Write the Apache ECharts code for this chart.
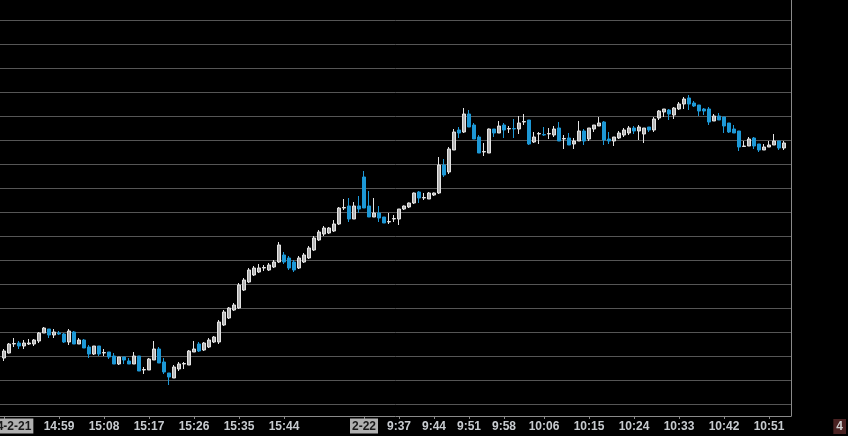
<!DOCTYPE html>
<html><head><meta charset="utf-8">
<script src="https://cdn.jsdelivr.net/npm/echarts@6/dist/echarts.min.js"></script>
<style>html,body{margin:0;padding:0;background:#000}#c{width:848px;height:436px}</style>
</head><body><div id="c"></div>
<script>
// 1-minute bars: session of 2-21 from 14:48 (72 bars), session of 2-22 from 9:30 (85 bars)
const sessionStart = ['14:48', '9:30'];
const sessionBars = [72, 85];

const opens = [3046,3051,3060,3061,3058,3060,3060,3063,3071,3075,3069,3071,3070,3062,3072,3060,3064,3057,3050,3058,
3051,3052,3048,3040,3047,3043,3040,3048,3034,3034,3044,3055,3042,3031,3026,3035,3040,3039,3052,3060,
3054,3057,3062,3062,3079,3086,3094,3096,3114,3122,3129,3132,3136,3134,3137,3142,3149,3146,3142,3136,
3142,3146,3154,3164,3170,3171,3173,3180,3196,3198,3185,3198,3227,3198,3187,3191,3187,3182,3185,3185,
3195,3197,3201,3212,3206,3205,3209,3211,3239,3232,3254,3274,3272,3290,3279,3267,3252,3251,3275,3271,
3279,3275,3275.5,3275,3282,3284,3262,3270,3269.5,3270,3269,3276,3265,3266,3260,3263,3273,3265,3275,3278,
3282,3265,3263,3266,3269,3271,3276,3273,3270,3277,3274,3286,3292,3294,3289,3295,3300,3306,3301,3299,
3295,3295,3283,3288,3287,3281,3275,3273,3257.5,3258,3266,3260,3254,3257,3259,3263,3256];
const closes = [3053,3060,3060.5,3058,3061,3061,3064,3071,3076,3069,3072,3070,3062,3073,3060,3064,3056,3050,3058,3050,
3051.5,3047,3040,3047,3044,3040,3048,3033,3034.5,3045,3055,3041,3032,3027,3037,3040,3040.5,3053,3055,3053,
3061,3064,3067,3082,3092,3096,3099,3119,3124,3134,3136,3136,3136.5,3139,3142,3159,3142,3136,3134,3146,
3149,3156,3166,3172,3176,3176,3180,3196,3196.5,3185,3198,3195,3196,3187,3191,3186,3181,3182.5,3185.5,3195,
3198,3201,3211,3206,3206.5,3211,3211,3239,3229,3255,3272,3271,3290,3277,3265,3251,3252.5,3275,3271,3278,
3274,3275.5,3275,3281,3282.5,3260,3267,3270.5,3269,3270.5,3275,3263,3265.5,3259,3263,3273,3263,3276,3279,3281,
3264,3263,3267,3271,3274,3276,3273,3277,3276,3274,3285,3293,3295,3290,3296,3300,3305,3300,3298,3293,
3293,3282,3288,3284,3278,3272,3271,3257,3258,3265,3258,3254,3257,3259,3263,3256,3261];
const lows = [3043,3050.5,3057,3055,3055,3059,3058,3061,3071,3066,3066,3069,3061,3059,3060,3060,3056,3046,3049,3048,
3048,3045,3040,3039,3040,3040,3040,3033,3030,3034,3044,3041,3030,3019,3026,3033,3035,3039,3052,3052,
3053,3056,3061,3060,3078,3085,3093,3095,3113,3121,3128,3131,3133,3133,3136,3141,3140,3134,3132,3135,
3141,3145,3153,3163,3168,3170,3172,3179,3194,3182,3185,3191,3196,3187,3187,3182,3181,3180,3182,3179,
3194,3196,3200,3201,3204,3205,3208,3210,3227,3230,3254,3266,3271,3277,3265,3251,3248,3251,3267,3271,
3266,3271,3266,3270,3279,3259,3261,3260,3268,3265,3267,3263,3255,3259,3255,3263,3259,3263,3272,3278,
3259,3260,3258,3265,3267,3269,3270,3264,3261,3272,3272,3284,3287,3284,3285,3294,3295,3294,3297,3288,
3289,3279,3283,3284,3271,3271,3271,3253,3257,3258,3255,3252,3254,3257,3259,3254,3254];
const highs = [3055,3061,3066,3063,3064,3065,3065,3072,3077,3075,3075,3073,3071,3075,3073,3066,3065,3059,3058,3058,
3055,3052,3051,3047,3047,3046,3052,3048,3037,3046,3063,3057,3046,3031,3039,3042,3042,3054,3063,3062,
3062,3066,3068,3084,3094,3097,3101,3121,3126,3136,3138,3140,3139,3141,3144,3162,3152,3148,3144,3148,
3151,3158,3168,3174,3178,3177,3184,3197,3205,3206,3202,3208,3233,3213,3206,3198,3187,3191,3189,3195,
3198.5,3201.5,3211.5,3213,3211,3212,3211.5,3247,3245,3257,3275,3277,3296,3294,3281,3269,3261,3275.5,3275,3283,
3281,3278,3285,3288,3290,3284,3272,3272,3277,3276,3278,3282,3269,3271,3266,3283,3275,3276,3279,3287,
3283,3272,3267,3273,3276,3278,3278,3279,3276,3277,3287,3294,3295,3295,3297,3302,3307,3309,3303,3299,
3296,3297,3290,3291,3287,3281,3279,3273,3263,3267,3267,3260,3260,3263,3270,3263,3263];

// axis labels shown under the bars
const tickIndex = [0, 11, 20, 29, 38, 47, 56, 72, 79, 86, 93, 100, 108, 117, 126, 135, 144, 153];
const tickText = ['2024-2-21','14:59','15:08','15:17','15:26','15:35','15:44','2-22','9:37','9:44','9:51','9:58','10:06','10:15','10:24','10:33','10:42','10:51'];

function buildCategories() {
  const out = [];
  sessionStart.forEach((s, k) => {
    let [h, m] = s.split(':').map(Number);
    for (let j = 0; j < sessionBars[k]; j++) {
      out.push(h + ':' + String(m).padStart(2, '0'));
      m++; if (m === 60) { m = 0; h++; }
    }
  });
  return out;
}
const categories = buildCategories();
const ohlc = opens.map((o, i) => [o, closes[i], lows[i], highs[i]]);

const chart = echarts.init(document.getElementById('c'), null, {renderer: 'canvas'});
const showAt = (idx) => tickIndex.indexOf(idx) >= 0;
chart.setOption({
  backgroundColor: '#000',
  animation: false,
  grid: [
    {left: 1.5, right: 61.5, top: 20, bottom: 32, containLabel: false, outerBoundsMode: 'none'},
    {left: 0, right: 57, top: 20, bottom: 32, containLabel: false, outerBoundsMode: 'none'},
    {left: 0, right: 57, top: 0, bottom: 20, containLabel: false, outerBoundsMode: 'none'}
  ],
  xAxis: [
    {type: 'category', gridIndex: 0, data: categories, boundaryGap: true, offset: 12,
     axisLine: {show: false},
     axisTick: {show: true, interval: showAt, alignWithLabel: true, length: 3, lineStyle: {color: '#888'}},
     axisLabel: {interval: showAt, margin: 3, hideOverlap: false,
       formatter: (v, idx) => {
         const k = tickIndex.indexOf(idx);
         const t = k >= 0 ? tickText[k] : v;
         return t.indexOf('-') >= 0 ? '{d|' + t + '}' : '{t|' + t + '}';
       },
       rich: {
         d: {backgroundColor: '#b0b0b0', color: '#1a1a1a', padding: [2, 2, 1, 2], fontSize: 12, fontWeight: 'bold', fontFamily: 'Liberation Sans', lineHeight: 14},
         t: {color: '#c8ccd0', padding: [2, 2, 1, 2], fontSize: 12, fontWeight: 'bold', fontFamily: 'Liberation Sans', lineHeight: 14}
       }},
     splitLine: {show: false}},
    {type: 'value', gridIndex: 1, show: false},
    {type: 'value', gridIndex: 2, min: 0, max: 1, axisLine: {show: true, onZero: false, lineStyle: {color: '#8a8a8a'}},
     axisTick: {show: false}, axisLabel: {show: false}, splitLine: {show: false}}
  ],
  yAxis: [
    {type: 'value', gridIndex: 0, min: 3000, max: 3384, interval: 24, show: false},
    {type: 'value', gridIndex: 1, min: 3000, max: 3384, interval: 24,
     axisLine: {show: false}, axisTick: {show: false}, axisLabel: {show: false},
     splitLine: {show: true, lineStyle: {color: '#555', width: 1}}},
    {type: 'value', gridIndex: 2, position: 'right', min: 0, max: 1,
     axisLine: {show: true, onZero: false, lineStyle: {color: '#8a8a8a'}}, axisTick: {show: false}, axisLabel: {show: false}, splitLine: {show: false}}
  ],
  series: [{
    type: 'candlestick', xAxisIndex: 0, yAxisIndex: 0, data: ohlc, barWidth: 3,
    itemStyle: {color: '#b4b4b4', color0: '#1d98d6', borderColor: '#e4e4e4', borderColor0: '#1d98d6', borderWidth: 1}
  }],
  graphic: [{
    type: 'text', right: 2, bottom: 2,
    style: {text: '4', fill: '#d0d0d0', backgroundColor: '#4a2222', padding: [2, 3, 1, 3], font: 'bold 12px "Liberation Sans"'}
  }]
});
</script></body></html>
